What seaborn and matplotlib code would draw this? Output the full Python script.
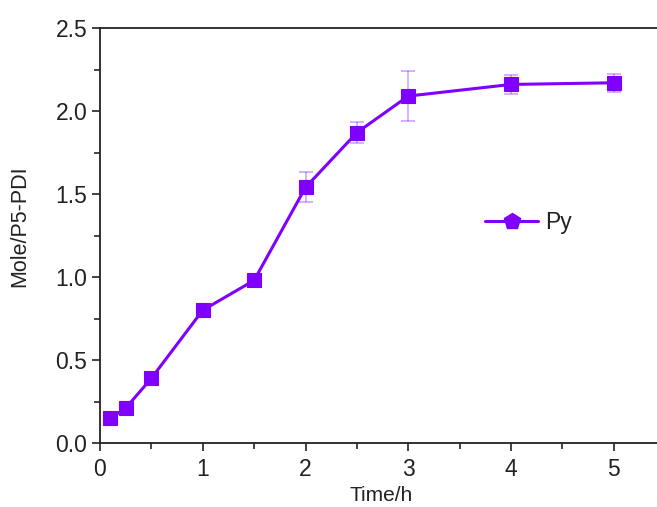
import matplotlib
matplotlib.use("Agg")
import matplotlib.pyplot as plt
from matplotlib.lines import Line2D
import seaborn as sns
import pandas as pd

time_h = [0.1, 0.25, 0.5, 1.0, 1.5, 2.0, 2.5, 3.0, 4.0, 5.0]
mole_ratio = [0.15, 0.21, 0.39, 0.80, 0.98, 1.54, 1.87, 2.09, 2.16, 2.17]
mole_err = [0.015, 0.02, 0.04, 0.02, 0.04, 0.09, 0.065, 0.15, 0.055, 0.055]
series_name = "Py"

color = "#8000FF"

sns.set_theme(style="ticks")
plt.rcParams["font.family"] = ["Liberation Sans", "DejaVu Sans"]

df = pd.DataFrame({"Time/h": time_h, "Mole/P5-PDI": mole_ratio})

fig = plt.figure(figsize=(6.57, 5.07), dpi=100)
ax = fig.add_axes([100 / 657, 64 / 507, 557 / 657, 415 / 507])

ax.errorbar(time_h, mole_ratio, yerr=mole_err, fmt="none", ecolor=color,
            alpha=0.4, elinewidth=1.1, capsize=5, capthick=1.1, zorder=2)
sns.lineplot(data=df, x="Time/h", y="Mole/P5-PDI", ax=ax, color=color,
             linewidth=2.2, marker="s", markersize=9.5, markeredgecolor=color,
             markeredgewidth=0.8, zorder=3)

ax.set_xlim(0, 5.42)
ax.set_ylim(0, 2.5)
ax.set_xticks([0, 1, 2, 3, 4, 5])
ax.set_yticks([0.0, 0.5, 1.0, 1.5, 2.0, 2.5])
ax.set_yticklabels(["0.0", "0.5", "1.0", "1.5", "2.0", "2.5"])
ax.set_xticks([0.5, 1.5, 2.5, 3.5, 4.5], minor=True)
ax.set_yticks([0.25, 0.75, 1.25, 1.75, 2.25], minor=True)
ax.tick_params(axis="both", which="major", direction="out", length=6,
               width=1.2, labelsize=16.5, colors="#222222", pad=3)
ax.tick_params(axis="x", which="major", pad=5)
ax.tick_params(axis="both", which="minor", direction="out", length=4,
               width=1.2)
for side in ["left", "bottom", "top"]:
    ax.spines[side].set_visible(True)
    ax.spines[side].set_linewidth(1.3)
    ax.spines[side].set_color("#222222")
ax.spines["right"].set_visible(False)

ax.set_xlabel("Time/h", fontsize=15, color="#222222")
ax.set_ylabel("Mole/P5-PDI", fontsize=15.5, color="#222222")
ax.xaxis.set_label_coords(281 / 557, -43 / 415)
ax.yaxis.set_label_coords(-70 / 557, 0.523)

handle = Line2D([], [], color=color, linewidth=2.2, marker="p",
                markersize=12, markeredgecolor=color)
ax.legend([handle], [series_name], loc="center left",
          bbox_to_anchor=(0.655, 0.532), frameon=False, fontsize=16.5,
          handlelength=2.3, handletextpad=0.3, labelcolor="#222222")

fig.savefig("out.png", dpi=100)
